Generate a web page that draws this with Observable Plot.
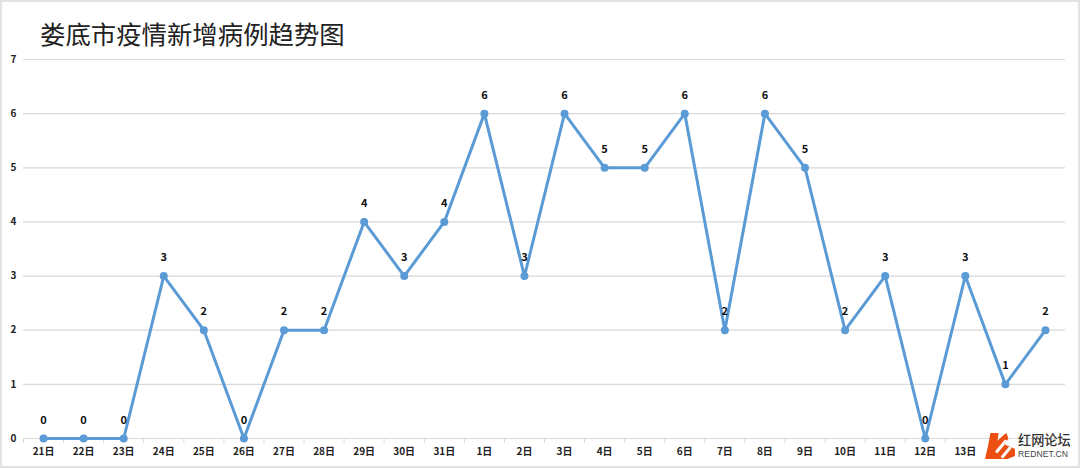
<!DOCTYPE html>
<html><head><meta charset="utf-8">
<script src="https://cdn.jsdelivr.net/npm/d3@7"></script>
<script src="https://cdn.jsdelivr.net/npm/@observablehq/plot@0.6"></script>
<style>
html,body{margin:0;padding:0;background:#fff;overflow:hidden}
#frame{position:relative;width:1080px;height:468px;box-sizing:border-box;border:2px solid #e2e2e2;overflow:hidden}
#title{position:absolute;left:38px;top:14px;font:400 25.4px/34px "Noto Sans CJK SC",sans-serif;color:#222;white-space:nowrap}
#chart{position:absolute;left:-2px;top:-2px;width:1080px;height:468px}
#wm{position:absolute;left:981px;top:429px;width:90px;height:33px}
#logo{position:absolute;left:2px;top:2px;width:30px;height:26px;background:#ec4f12;clip-path:polygon(18% 0,45% 0,42% 30%,60% 10%,72% 0,78% 22%,62% 42%,100% 62%,100% 88%,75% 100%,0 100%,10% 50%)}
.slash{position:absolute;background:#fff;transform:rotate(-50deg);height:2.5px;border-radius:1px}
#wm1{position:absolute;left:35px;top:1px;font:500 13.2px/16px "Noto Sans CJK SC",sans-serif;color:#333;white-space:nowrap}
#wm2{position:absolute;left:35px;top:18px;font:500 8.6px/11px "Liberation Sans",sans-serif;color:#444;letter-spacing:.1px;white-space:nowrap}
</style></head>
<body><div id="frame">
<div id="chart"></div>
<div id="title">娄底市疫情新增病例趋势图</div>
<div id="wm"><div id="logo"><div class="slash" style="left:8px;top:12px;width:16px"></div><div class="slash" style="left:14px;top:18px;width:14px"></div></div><div id="wm1">红网论坛</div><div id="wm2">REDNET.CN</div></div>
</div>
<script>
const days = ["21日","22日","23日","24日","25日","26日","27日","28日","29日","30日","31日","1日","2日","3日","4日","5日","6日","7日","8日","9日","10日","11日","12日","13日","14日","15日"];
const cases = [0,0,0,3,2,0,2,2,4,3,4,6,3,6,5,5,6,2,6,5,2,3,0,3,1,2];
const yTicks = [0,1,2,3,4,5,6,7];
const visibleDays = days.slice(0,24); // the last two labels sit under the watermark in the reference
const rows = days.map((day,i)=>({day,value:cases[i]}));
const blue = "#5b9bd5";
const plot = Plot.plot({
  width:1080, height:468,
  marginLeft:23, marginRight:15, marginTop:59, marginBottom:30,
  style:{fontFamily:'"Noto Sans CJK SC",sans-serif',background:"transparent"},
  x:{type:"band",domain:days,padding:0,round:false,label:null},
  y:{domain:[0,7],label:null},
  marks:[
    Plot.gridY(yTicks,{stroke:"#d9d9d9",strokeOpacity:1,strokeWidth:1.2}),
    Plot.axisY({ticks:yTicks,tickFormat:"d",tickSize:0,tickPadding:7,fontWeight:700,fontSize:10,fill:"#222",label:null}),
    Plot.axisX({ticks:visibleDays,tickSize:5,text:null,dx:-20.04,stroke:"#d9d9d9",label:null}),
    Plot.axisX({ticks:visibleDays,tickSize:0,tickPadding:9,fontWeight:700,fontSize:10,fill:"#222",label:null}),
    Plot.line(rows,{x:"day",y:"value",stroke:blue,strokeWidth:3}),
    Plot.dot(rows,{x:"day",y:"value",fill:blue,r:4}),
    Plot.text(rows,{x:"day",y:"value",text:"value",dy:-18.5,fontWeight:700,fontSize:11,fill:"#111"})
  ]
});
document.getElementById("chart").appendChild(plot);
</script>
</body></html>
